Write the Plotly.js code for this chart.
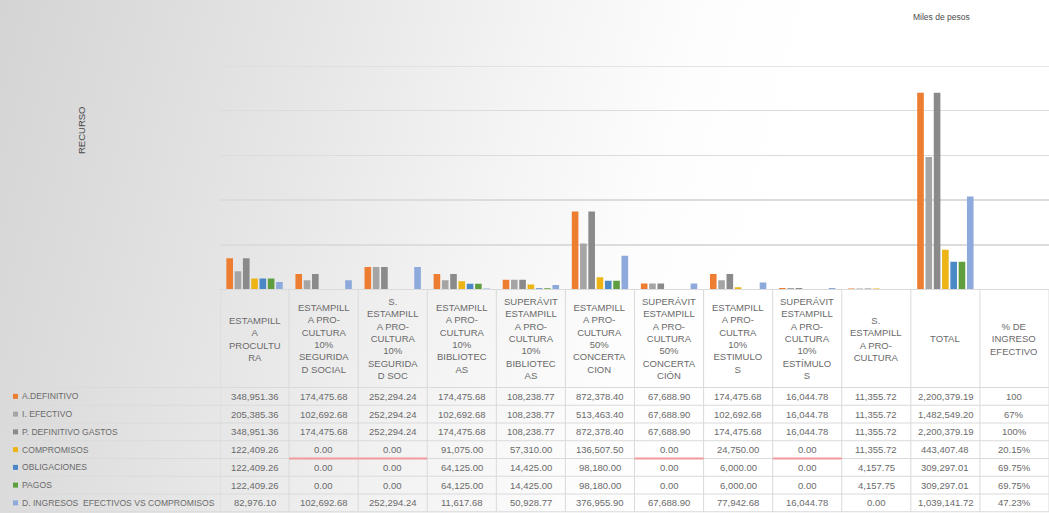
<!DOCTYPE html>
<html>
<head>
<meta charset="utf-8">
<script src="https://cdn.plot.ly/plotly-3.0.1.min.js"></script>
<style>
  html, body { margin: 0; padding: 0; }
  body {
    width: 1049px; height: 513px; overflow: hidden;
    background: linear-gradient(105deg, #d4d4d4 0%, #dddddd 14%, #e8e8e8 30%, #f4f4f4 46%, #fdfdfd 60%, #ffffff 70%);
  }
  #chart { width: 1049px; height: 513px; }
</style>
</head>
<body>
<div id="chart"></div>
<script>
// ---------------- DATA ----------------
const categories = [
  "ESTAMPILL<br>A<br>PROCULTU<br>RA",
  "ESTAMPILL<br>A PRO-<br>CULTURA<br>10%<br>SEGURIDA<br>D SOCIAL",
  "S.<br>ESTAMPILL<br>A PRO-<br>CULTURA<br>10%<br>SEGURIDA<br>D SOC",
  "ESTAMPILL<br>A PRO-<br>CULTURA<br>10%<br>BIBLIOTEC<br>AS",
  "SUPERÁVIT<br>ESTAMPILL<br>A PRO-<br>CULTURA<br>10%<br>BIBLIOTEC<br>AS",
  "ESTAMPILL<br>A PRO-<br>CULTURA<br>50%<br>CONCERTA<br>CION",
  "SUPERÁVIT<br>ESTAMPILL<br>A PRO-<br>CULTURA<br>50%<br>CONCERTA<br>CIÓN",
  "ESTAMPILL<br>A PRO-<br>CULTRA<br>10%<br>ESTIMULO<br>S",
  "SUPERÁVIT<br>ESTAMPILL<br>A PRO-<br>CULTURA<br>10%<br>ESTÍMULO<br>S",
  "S.<br>ESTAMPILL<br>A PRO-<br>CULTURA",
  "TOTAL",
  "% DE<br>INGRESO<br>EFECTIVO"
];

const seriesNames = [
  "A.DEFINITIVO",
  "I. EFECTIVO",
  "P. DEFINITIVO GASTOS",
  "COMPROMISOS",
  "OBLIGACIONES",
  "PAGOS",
  "D. INGRESOS  EFECTIVOS VS COMPROMISOS"
];

const aDefinitivo   = [348951.36, 174475.68, 252294.24, 174475.68, 108238.77, 872378.40, 67688.90, 174475.68, 16044.78, 11355.72, 2200379.19, 100];
const iEfectivo     = [205385.36, 102692.68, 252294.24, 102692.68, 108238.77, 513463.40, 67688.90, 102692.68, 16044.78, 11355.72, 1482549.20, 67];
const pDefinitivo   = [348951.36, 174475.68, 252294.24, 174475.68, 108238.77, 872378.40, 67688.90, 174475.68, 16044.78, 11355.72, 2200379.19, 100];
const compromisos   = [122409.26, 0, 0, 91075.00, 57310.00, 136507.50, 0, 24750.00, 0, 11355.72, 443407.48, 20.15];
const obligaciones  = [122409.26, 0, 0, 64125.00, 14425.00, 98180.00, 0, 6000.00, 0, 4157.75, 309297.01, 69.75];
const pagos         = [122409.26, 0, 0, 64125.00, 14425.00, 98180.00, 0, 6000.00, 0, 4157.75, 309297.01, 69.75];
const dIngresos     = [82976.10, 102692.68, 252294.24, 11617.68, 50928.77, 376955.90, 67688.90, 77942.68, 16044.78, 0.00, 1039141.72, 47.23];

// labels shown in the last table column
const pctLabels = ["100", "67%", "100%", "20.15%", "69.75%", "69.75%", "47.23%"];

const seriesValues = [aDefinitivo, iEfectivo, pDefinitivo, compromisos, obligaciones, pagos, dIngresos];
const seriesColors = ["#ED7D31", "#A5A5A5", "#8A8A8A", "#EDB416", "#4A88C6", "#5F9E3F", "#8EA9DB"];

// ---------------- LAYOUT HELPERS ----------------
const W = 1049, H = 513;
const py = v => (H - v) / H;          // pixel y -> paper y
const px = v => v / W;                // pixel x -> paper x
const plotLeft = 220, plotTop = 66, plotBottom = 289.5;
const headerCenter = 338.5, headerBottom = 387.5, rowH = 17.75;
const textColor = "#6a6a6a";
const fontFam = "'Liberation Sans', Arial, sans-serif";
const lineColor = "#dadada";
const yMax = 2500000;

const fmt = v => v.toLocaleString("en-US", {minimumFractionDigits: 2, maximumFractionDigits: 2});

const traces = seriesNames.map((name, s) => ({
  type: "bar",
  name: name,
  x: categories,
  y: seriesValues[s],
  marker: {color: seriesColors[s]},
  showlegend: false,
  hoverinfo: "x+y+name"
}));

const annotations = [];
const shapes = [];

// top gridline (edge of the value range)
shapes.push({type: "line", xref: "paper", yref: "y", x0: px(plotLeft), x1: 1,
  y0: yMax, y1: yMax, line: {color: "#dcdcdc", width: 1.5}});

// header labels
categories.forEach((c, i) => {
  annotations.push({
    xref: "x", yref: "paper", x: i, y: py(headerCenter),
    text: c, showarrow: false, xanchor: "center", yanchor: "middle", align: "center",
    font: {family: fontFam, size: 9.5, color: textColor}
  });
});

// table values + row labels + legend keys
seriesNames.forEach((name, s) => {
  const yc = headerBottom + rowH * (s + 0.5);
  categories.forEach((c, i) => {
    const txt = (i === categories.length - 1) ? pctLabels[s] : fmt(seriesValues[s][i]);
    annotations.push({
      xref: "x", yref: "paper", x: i, y: py(yc),
      text: txt, showarrow: false, xanchor: "center", yanchor: "middle",
      font: {family: fontFam, size: 9.5, color: textColor}
    });
  });
  annotations.push({
    xref: "paper", yref: "paper", x: px(20), y: py(yc),
    text: name, showarrow: false, xanchor: "left", yanchor: "middle",
    font: {family: fontFam, size: 8.6, color: textColor}
  });
  shapes.push({
    type: "rect", xref: "paper", yref: "paper",
    x0: px(13), x1: px(18), y0: py(yc + 2.5), y1: py(yc - 2.5),
    line: {width: 0}, fillcolor: seriesColors[s]
  });
});

// table horizontal lines
shapes.push({type: "line", xref: "paper", yref: "paper", x0: px(plotLeft), x1: 1,
  y0: py(plotBottom), y1: py(plotBottom), line: {color: lineColor, width: 1}});
for (let r = 0; r <= seriesNames.length; r++) {
  const yy = headerBottom + rowH * r;
  shapes.push({type: "line", xref: "paper", yref: "paper", x0: 0, x1: 1,
    y0: py(yy), y1: py(yy), line: {color: lineColor, width: 1}});
}
// table vertical lines
for (let i = 0; i <= categories.length; i++) {
  shapes.push({type: "line", xref: "x", yref: "paper", x0: i - 0.5, x1: i - 0.5,
    y0: py(plotBottom), y1: py(headerBottom + rowH * seriesNames.length),
    line: {color: lineColor, width: 1}});
}
// red underline under zero commitments
compromisos.forEach((v, i) => {
  if (v === 0) {
    shapes.push({type: "line", xref: "x", yref: "paper", x0: i - 0.5, x1: i + 0.5,
      y0: py(headerBottom + rowH * 4), y1: py(headerBottom + rowH * 4),
      line: {color: "#F29A9A", width: 2}});
  }
});

// titles
annotations.push({
  xref: "paper", yref: "paper", x: px(81), y: py(130), textangle: -90,
  text: "RECURSO", showarrow: false, xanchor: "center", yanchor: "middle",
  font: {family: fontFam, size: 9.5, color: "#4a4a4a"}
});
annotations.push({
  xref: "paper", yref: "paper", x: px(941), y: py(17),
  text: "Miles de pesos", showarrow: false, xanchor: "center", yanchor: "middle",
  font: {family: fontFam, size: 8.5, color: "#4a4a4a"}
});

const layout = {
  width: W, height: H,
  margin: {l: 0, r: 0, t: 0, b: 0, pad: 0},
  paper_bgcolor: "rgba(0,0,0,0)",
  plot_bgcolor: "rgba(0,0,0,0)",
  barmode: "group",
  bargap: 0.16,
  bargroupgap: 0.2,
  xaxis: {
    type: "category", domain: [px(plotLeft), 1], range: [-0.5, categories.length - 0.5],
    showticklabels: false, showgrid: false, showline: false, ticks: "", zeroline: false,
    fixedrange: true
  },
  yaxis: {
    domain: [py(plotBottom), py(plotTop)], range: [0, yMax], dtick: 500000,
    showticklabels: false, showgrid: true, gridcolor: "#dcdcdc", gridwidth: 1.5,
    zeroline: false, showline: false, ticks: "", fixedrange: true
  },
  shapes: shapes,
  annotations: annotations,
  font: {family: fontFam, color: textColor}
};

Plotly.newPlot("chart", traces, layout, {displayModeBar: false, staticPlot: true});
</script>
</body>
</html>
